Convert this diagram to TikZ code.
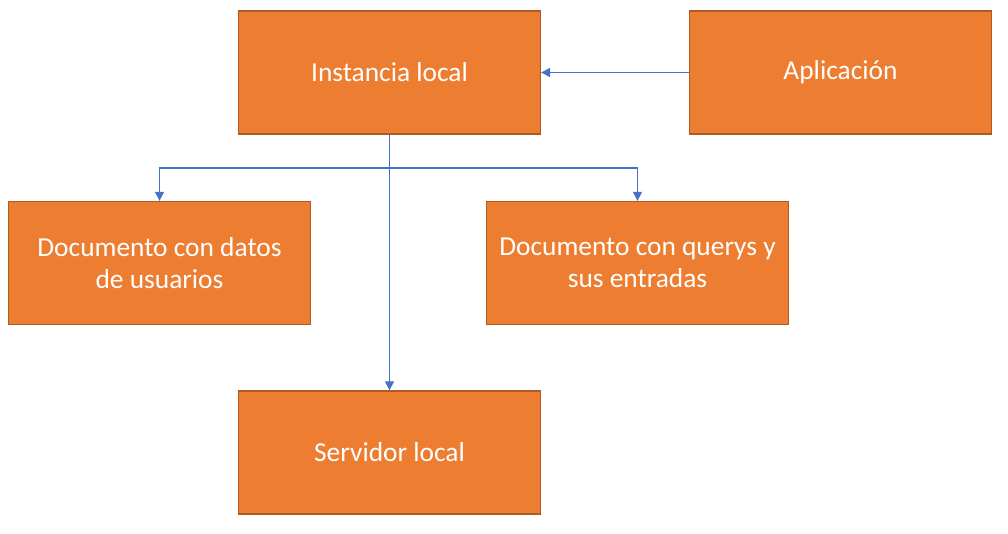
\documentclass[tikz,border=0pt]{standalone}
\usepackage{fontspec}
\setmainfont{Carlito}
\usetikzlibrary{arrows.meta}
\definecolor{boxfill}{HTML}{ED7D31}
\definecolor{boxline}{HTML}{AE5A21}
\definecolor{conn}{HTML}{4472C4}
\tikzset{
  blk/.style={draw=boxline, fill=boxfill, line width=1.3pt, minimum width=302pt, minimum height=123pt,
    inner sep=0pt, text=white, align=center, font=\fontsize{27.4}{32}\selectfont},
  conline/.style={draw=conn, line width=1.1pt, -{Triangle[length=9pt,width=9pt]}}
}
\begin{document}
\begin{tikzpicture}[x=1pt,y=-1pt]
\useasboundingbox (0,0) rectangle (1008,533);
\node[blk] (inst) at (389.5,72.5) {\raisebox{-2pt}{Instancia local}};
\node[blk] (apl) at (840.5,72.5) {\raisebox{-2pt}{Aplicación}};
\node[blk] (doc1) at (159.5,263) {Documento con datos\\de usuarios};
\node[blk] (doc2) at (637.5,263) {Documento con querys y\\sus entradas};
\node[blk] (serv) at (389.5,452.5) {\raisebox{-2pt}{Servidor local}};
\coordinate (j) at (389.5,168);
\draw[conline] (apl.west) -- (inst.east);
\draw[conline] (inst.south) -- (j) -| (doc1.north);
\draw[conline] (inst.south) -- (j) -| (doc2.north);
\draw[conline] (inst.south) -- (serv.north);
\end{tikzpicture}
\end{document}
